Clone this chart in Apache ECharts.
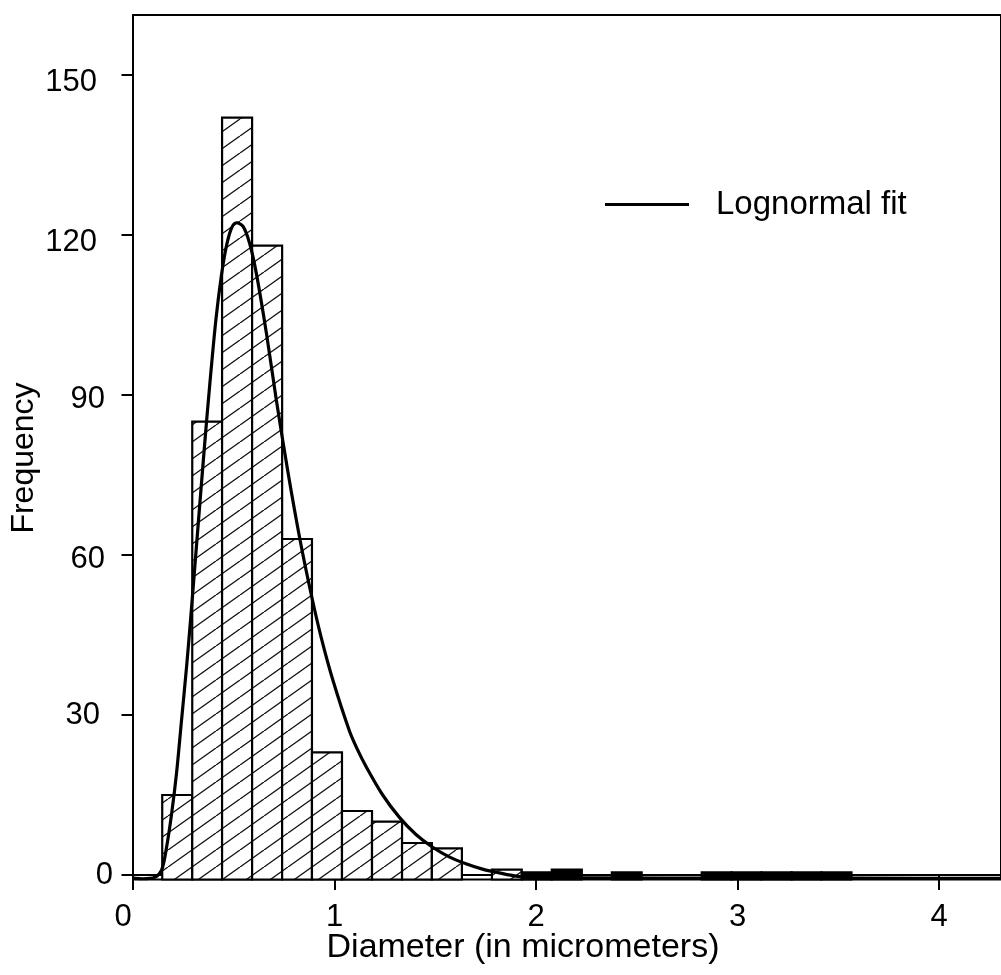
<!DOCTYPE html>
<html>
<head>
<meta charset="utf-8">
<script src="https://cdn.jsdelivr.net/npm/echarts@6/dist/echarts.min.js"></script>
<style>
html,body{margin:0;padding:0;background:#fff;}
#chart{width:1001px;height:975px;}
</style>
</head>
<body>
<div id="chart"></div>
<script>
// ---- data ----
const binEdges = [0.145, 0.294, 0.442, 0.591, 0.740, 0.888, 1.037, 1.186, 1.335, 1.483, 1.632,
  1.781, 1.929, 2.078, 2.227, 2.376, 2.524, 2.673, 2.822, 2.970, 3.119, 3.268, 3.416, 3.565,
  3.714, 3.863, 4.011];
const binCounts = [15, 85, 142, 118, 63, 23, 12, 10, 6, 5, 0,
  1, 0.5, 1, 0, 0.5, 0, 0, 0.5, 0.5, 0.5, 0.5, 0.5, 0, 0, 0];
const fitX = [0.0, 0.05, 0.109, 0.142, 0.167, 0.192, 0.216, 0.241, 0.266, 0.287, 0.304, 0.324,
  0.356, 0.381, 0.411, 0.439, 0.464, 0.489, 0.513, 0.546, 0.579, 0.612, 0.662, 0.711, 0.769,
  0.827, 0.885, 0.934, 0.992, 1.074, 1.114, 1.157, 1.239, 1.322, 1.404, 1.487, 1.569, 1.652,
  1.734, 1.817, 1.9, 2.015, 2.3, 3.0, 3.6, 4.31];
const fitY = [-0.6, -0.7, -0.4, 0.9, 5.3, 11.6, 19.1, 29.1, 39.1, 48.5, 56.5, 66,
  81, 92, 104, 112.5, 118, 121.3, 122.3, 121.6, 118.4, 112.8, 101.6, 89.1, 75.5,
  63.2, 52.5, 44.5, 36.5, 27, 23.5, 20.3, 15, 10.8, 7.6, 5.2, 3.4, 2.1,
  1.1, 0.4, -0.2, -0.45, -0.55, -0.6, -0.6, -0.65];
const yTicks = [0, 30, 60, 90, 120, 150];
const xTicks = [0, 1, 2, 3, 4];
const xTitle = 'Diameter (in micrometers)';
const yTitle = 'Frequency';
const fitName = 'Lognormal fit';

// ---- presentation ----
const FONT = 'Liberation Sans';
const Y_MIN = -0.844, Y_MAX = 161.25;
const X_MAX = 4.307;
const SOLID_FROM = 1.9;

function makeHatch() {
  const W = 24, H = 17;
  const c = document.createElement('canvas');
  c.width = W; c.height = H;
  const g = c.getContext('2d');
  g.fillStyle = '#fff'; g.fillRect(0, 0, W, H);
  g.strokeStyle = '#111'; g.lineWidth = 1.3;
  for (const dx of [-W, 0, W]) {
    g.beginPath(); g.moveTo(dx, H); g.lineTo(dx + W, 0); g.stroke();
  }
  return c;
}
const hatch = { image: makeHatch(), repeat: 'repeat' };

const histData = binCounts.map((c, i) => [binEdges[i], binEdges[i + 1], c]);
const fitData = fitX.map((x, i) => [x, fitY[i]]);

const yRich = {
  t0: { padding: [0, 0, 0, 0] },
  t30: { padding: [0, 13, 0, 0] },
  t60: { padding: [8, 8, 0, 0] },
  t90: { padding: [8, 8, 0, 0] },
  t120: { padding: [14, 16, 0, 0] },
  t150: { padding: [14, 16, 0, 0] }
};

const chart = echarts.init(document.getElementById('chart'), null, { renderer: 'canvas' });
chart.setOption({
  animation: false,
  backgroundColor: '#fff',
  textStyle: { fontFamily: FONT, color: '#000' },
  grid: {
    left: 133, top: 15, right: -2, bottom: 95.5,
    show: true, borderColor: '#000', borderWidth: 2, backgroundColor: 'transparent'
  },
  legend: {
    data: [fitName],
    left: 600, top: 183,
    icon: 'rect',
    itemWidth: 84, itemHeight: 3,
    textStyle: { fontFamily: FONT, fontSize: 33, color: '#000', padding: [6, 0, 0, 22] }
  },
  xAxis: {
    type: 'value', min: 0, max: X_MAX,
    axisLine: { show: true, lineStyle: { color: '#000', width: 2 } },
    axisTick: { show: true, length: 15, lineStyle: { color: '#000', width: 2 }, customValues: xTicks },
    axisLabel: {
      customValues: xTicks, fontSize: 31, color: '#000', fontFamily: FONT, margin: 22,
      formatter: v => v === 0 ? '{z|0}' : String(v),
      rich: { z: { padding: [0, 20, 0, 0], fontSize: 31, fontFamily: FONT } }
    },
    splitLine: { show: false }
  },
  yAxis: {
    type: 'value', min: Y_MIN, max: Y_MAX, offset: 4.5,
    axisLine: { show: false },
    axisTick: { show: true, length: 11.5, lineStyle: { color: '#000', width: 2 }, customValues: yTicks },
    axisLabel: {
      customValues: yTicks, fontSize: 31, color: '#000', fontFamily: FONT, margin: 15.5,
      formatter: v => '{t' + v + '|' + v + '}',
      rich: Object.fromEntries(Object.entries(yRich).map(([k, s]) =>
        [k, Object.assign({ fontSize: 31, fontFamily: FONT, color: '#000' }, s)]))
    },
    splitLine: { show: false }
  },
  graphic: [
    { type: 'text', x: 24, y: 458, rotation: Math.PI / 2,
      style: { text: yTitle, font: '32px "' + FONT + '"', fill: '#000', align: 'center', verticalAlign: 'middle' } },
    { type: 'text', x: 523, y: 948,
      style: { text: xTitle, font: '34px "' + FONT + '"', fill: '#000', align: 'center', verticalAlign: 'middle' } }
  ],
  series: [
    {
      type: 'custom',
      name: 'Histogram',
      data: histData,
      encode: { x: [0, 1], y: 2 },
      z: 2,
      renderItem(params, api) {
        const x0 = api.value(0), x1 = api.value(1), c = api.value(2);
        if (!(c > 0)) return null;
        const p0 = api.coord([x0, c]);
        const p1 = api.coord([x1, Y_MIN]);
        return {
          type: 'rect',
          shape: { x: p0[0], y: p0[1], width: p1[0] - p0[0], height: p1[1] - p0[1] },
          style: { fill: x0 >= SOLID_FROM ? '#000' : hatch, stroke: '#000', lineWidth: 2.2 }
        };
      }
    },
    {
      type: 'line',
      name: fitName,
      data: fitData,
      symbol: 'none',
      smooth: 0.3,
      z: 5,
      lineStyle: { color: '#000', width: 3.2 },
      itemStyle: { color: '#000' }
    }
  ]
});
</script>
</body>
</html>
